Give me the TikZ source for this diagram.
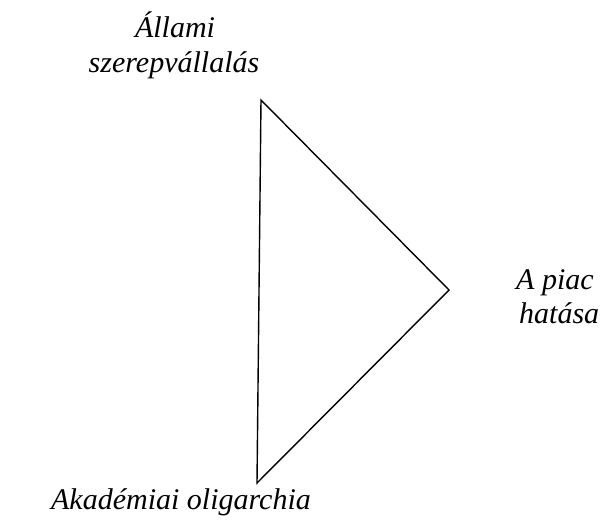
\documentclass[tikz,border=0pt]{standalone}
\usepackage{fontspec}
\setmainfont{Liberation Serif}[ItalicFont={Liberation Serif Italic}]
\newfontfamily\lblfont{Liberation Serif Italic}
\begin{document}
\begin{tikzpicture}[x=1pt,y=-1pt,
  lbl/.style={font=\fontsize{30}{35}\selectfont\lblfont, inner sep=0pt, anchor=base},
  edge/.style={draw=black, line width=1.4pt, line join=miter}]
\useasboundingbox (0,0) rectangle (605,520);
\coordinate (top) at (261,100);
\coordinate (right) at (449,290);
\coordinate (bottom) at (257,483);
\draw[edge] (top) -- (right) -- (bottom) -- cycle;
\node[lbl] (t1) at (175,37) {Állami};
\node[lbl] (t2) at (174,72) {szerepvállalás};
\node[lbl, anchor=base west] (r1) at (516,289) {A piac};
\node[lbl, anchor=base west] (r2) at (519,323) {hatása};
\node[lbl] (b1) at (181,509) {Akadémiai oligarchia};
\end{tikzpicture}
\end{document}
